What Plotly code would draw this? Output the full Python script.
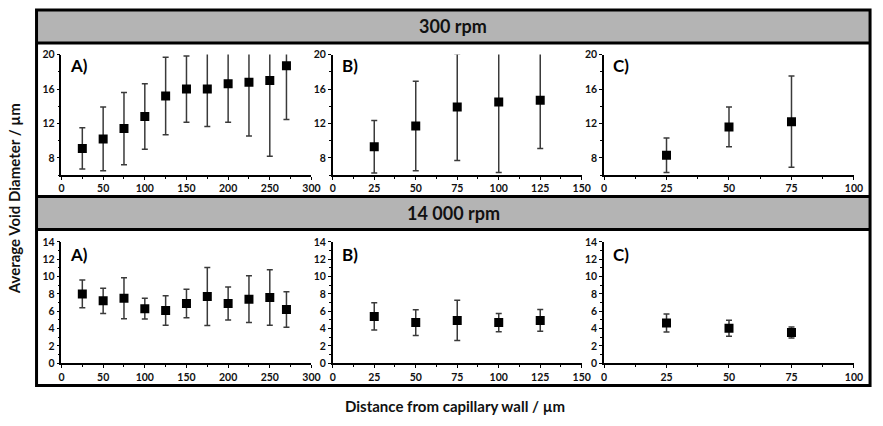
import plotly.graph_objects as go

W, H = 883, 426

# ---------------- data ----------------
x_300_A = [25, 50, 75, 100, 125, 150, 175, 200, 225, 250, 270]
y_300_A = [9.1, 10.2, 11.4, 12.8, 15.2, 16.0, 16.0, 16.6, 16.8, 17.0, 18.7]
e_300_A = [2.4, 3.7, 4.2, 3.8, 4.5, 3.85, 4.35, 4.45, 6.25, 8.8, 6.25]

x_300_B = [25, 50, 75, 100, 125]
y_300_B = [9.3, 11.7, 13.9, 14.5, 14.7]
e_300_B = [3.05, 5.2, 6.2, 8.2, 5.6]

x_300_C = [25, 50, 75]
y_300_C = [8.3, 11.6, 12.2]
e_300_C = [2.0, 2.3, 5.3]

x_14k_A = [25, 50, 75, 100, 125, 150, 175, 200, 225, 250, 270]
y_14k_A = [8.0, 7.2, 7.5, 6.3, 6.1, 6.9, 7.7, 6.9, 7.4, 7.6, 6.2]
e_14k_A = [1.6, 1.45, 2.35, 1.2, 1.7, 1.65, 3.35, 1.9, 2.7, 3.2, 2.05]

x_14k_B = [25, 50, 75, 100, 125]
y_14k_B = [5.4, 4.7, 4.95, 4.7, 4.95]
e_14k_B = [1.57, 1.48, 2.33, 1.05, 1.25]

x_14k_C = [25, 50, 75]
y_14k_C = [4.65, 4.05, 3.55]
e_14k_C = [1.05, 0.92, 0.64]

panel_letters = ["A)", "B)", "C)"]
row_titles = ["300 rpm", "14 000 rpm"]
y_title = "Average Void Diameter / µm"
x_title = "Distance from capillary wall / µm"

x_ranges = [[0, 300], [0, 150], [0, 100]]
x_dticks = [50, 25, 25]
y_ranges = [[6, 20], [0, 14]]
y_dticks = [4, 2]

# ---------------- layout helpers ----------------
def px(x):
    return x / W

def py(y):
    return 1 - y / H

FONT = "Lato"
x_domains = [[px(59.3), px(312.7)], [px(334.3), px(586.7)], [px(609.3), px(862.7)]]
y_domains = [[py(174), py(50)], [py(367.7), py(242.7)]]

series = [
    (x_300_A, y_300_A, e_300_A), (x_300_B, y_300_B, e_300_B), (x_300_C, y_300_C, e_300_C),
    (x_14k_A, y_14k_A, e_14k_A), (x_14k_B, y_14k_B, e_14k_B), (x_14k_C, y_14k_C, e_14k_C),
]

fig = go.Figure()
layout = dict(
    width=W, height=H, margin=dict(l=0, r=0, t=0, b=0),
    paper_bgcolor="white", plot_bgcolor="white", showlegend=False,
    font=dict(family=FONT, color="#111"),
)

annotations = []
for i, (xs, ys, es) in enumerate(series):
    r, c = divmod(i, 3)
    n = i + 1
    xa = "x" if n == 1 else f"x{n}"
    ya = "y" if n == 1 else f"y{n}"
    fig.add_trace(go.Scatter(
        x=xs, y=ys, xaxis=xa, yaxis=ya, mode="markers",
        marker=dict(symbol="square", size=9, color="black"),
        error_y=dict(type="data", array=es, visible=True, color="#3a3a3a",
                     thickness=1.5, width=3),
    ))
    common = dict(
        showline=True, linecolor="black", linewidth=1.5, showgrid=False,
        zeroline=False, ticks="outside", ticklen=3, tickwidth=1.2,
        tickcolor="black",
        tickfont=dict(family=FONT, size=10.5, color="#111", weight="bold"),
    )
    layout["xaxis" if n == 1 else f"xaxis{n}"] = dict(
        common, domain=x_domains[c], range=x_ranges[c], dtick=x_dticks[c],
        tick0=0, anchor=ya,
        minor=dict(ticks="outside", ticklen=2, tickcolor="black", dtick=x_dticks[c] / 2),
    )
    layout["yaxis" if n == 1 else f"yaxis{n}"] = dict(
        common, domain=y_domains[r], range=y_ranges[r], dtick=y_dticks[r],
        tick0=0, anchor=xa,
        minor=dict(ticks="outside", ticklen=2, tickcolor="black", dtick=y_dticks[r] / 2),
    )
    # panel letter
    letter_x = [66, 341.5, 616][c]
    letter_y = [61.5, 256][r]
    annotations.append(dict(
        x=px(letter_x), y=py(letter_y), xref="paper", yref="paper",
        xanchor="left", yanchor="middle", showarrow=False, text=panel_letters[c],
        font=dict(family=FONT, size=17, color="black", weight="bold"),
    ))

# row headers
for r, ty in enumerate([21, 213.5]):
    annotations.append(dict(
        x=px(456.7), y=py(ty), xref="paper", yref="paper", showarrow=False,
        xanchor="center", yanchor="middle", text=row_titles[r],
        font=dict(family=FONT, size=18, color="#111", weight="bold"),
    ))

annotations.append(dict(
    x=px(12), y=py(198), xref="paper", yref="paper", showarrow=False,
    xanchor="center", yanchor="middle", text=y_title, textangle=-90,
    font=dict(family=FONT, size=15, color="#111", weight="bold"),
))
annotations.append(dict(
    x=px(458), y=py(412), xref="paper", yref="paper", showarrow=False,
    xanchor="center", yanchor="middle", text=x_title,
    font=dict(family=FONT, size=15, color="#111", weight="bold"),
))

shapes = []
GRAY = "#b4b4b4"
L, R = px(34), px(879)
# header bands
shapes.append(dict(type="rect", xref="paper", yref="paper", x0=L, x1=R,
                   y0=py(37.5), y1=py(4.5), fillcolor=GRAY, line=dict(width=0), layer="below"))
shapes.append(dict(type="rect", xref="paper", yref="paper", x0=L, x1=R,
                   y0=py(229), y1=py(197), fillcolor=GRAY, line=dict(width=0), layer="below"))
# separator lines
for yy in [38, 196, 230]:
    shapes.append(dict(type="line", xref="paper", yref="paper", x0=L, x1=R,
                       y0=py(yy), y1=py(yy), line=dict(color="black", width=3)))
# outer frame
shapes.append(dict(type="rect", xref="paper", yref="paper", x0=L, x1=R,
                   y0=py(390.5), y1=py(4), line=dict(color="black", width=3)))

layout["annotations"] = annotations
layout["shapes"] = shapes
fig.update_layout(**layout)
fig.write_html("out.html")
